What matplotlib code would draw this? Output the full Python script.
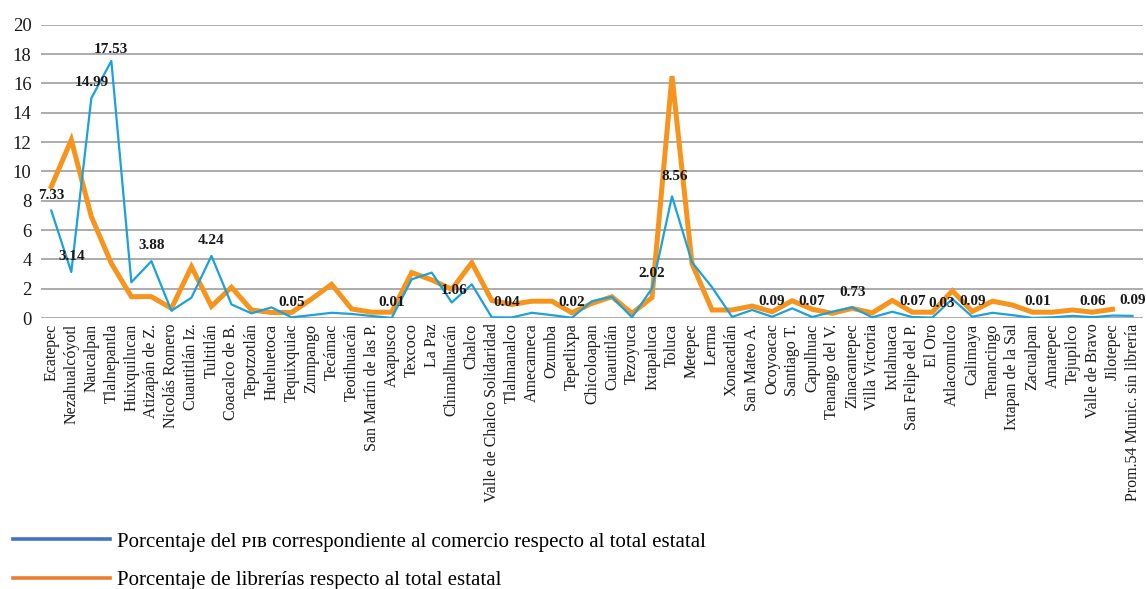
import numpy as np
import matplotlib.pyplot as plt
from matplotlib.lines import Line2D

plt.rcParams['font.family'] = ['Liberation Serif', 'DejaVu Serif']

municipios = [
    'Ecatepec', 'Nezahualcóyotl', 'Naucalpan', 'Tlalnepantla', 'Huixquilucan',
    'Atizapán de Z.', 'Nicolás Romero', 'Cuautitlán Iz.', 'Tultitlán', 'Coacalco de B.',
    'Tepotzotlán', 'Huehuetoca', 'Tequixquiac', 'Zumpango', 'Tecámac',
    'Teotihuacán', 'San Martín de las P.', 'Axapusco', 'Texcoco', 'La Paz',
    'Chimalhuacán', 'Chalco', 'Valle de Chalco Solidaridad', 'Tlalmanalco', 'Amecameca',
    'Ozumba', 'Tepetlixpa', 'Chicoloapan', 'Cuautitlán', 'Tezoyuca',
    'Ixtapaluca', 'Toluca', 'Metepec', 'Lerma', 'Xonacatlán',
    'San Mateo A.', 'Ocoyoacac', 'Santiago T.', 'Capulhuac', 'Tenango del V.',
    'Zinacantepec', 'Villa Victoria', 'Ixtlahuaca', 'San Felipe del P.', 'El Oro',
    'Atlacomulco', 'Calimaya', 'Tenancingo', 'Ixtapan de la Sal', 'Zacualpan',
    'Amatepec', 'Tejupilco', 'Valle de Bravo', 'Jilotepec', 'Prom.54 Munic. sin librería',
]

# % del PIB de comercio (azul)
pib = [
    7.33, 3.14, 14.99, 17.53, 2.44, 3.88, 0.50, 1.39, 4.24, 0.93,
    0.32, 0.73, 0.05, 0.20, 0.36, 0.28, 0.14, 0.01, 2.64, 3.10,
    1.06, 2.30, 0.05, 0.04, 0.36, 0.20, 0.02, 1.15, 1.45, 0.05,
    2.02, 8.30, 3.80, 2.10, 0.08, 0.55, 0.09, 0.66, 0.07, 0.43,
    0.73, 0.05, 0.43, 0.07, 0.03, 1.30, 0.09, 0.36, 0.20, 0.01,
    0.05, 0.15, 0.06, 0.17, 0.15,
]

# % de librerías (naranja); sin dato para el promedio
librerias = [
    8.96, 12.15, 6.92, 3.73, 1.46, 1.46, 0.66, 3.50, 0.80, 2.10,
    0.55, 0.38, 0.38, 1.30, 2.30, 0.62, 0.40, 0.40, 3.10, 2.60,
    1.96, 3.77, 1.20, 0.93, 1.15, 1.15, 0.36, 1.00, 1.45, 0.32,
    1.40, 16.50, 3.70, 0.55, 0.55, 0.82, 0.43, 1.18, 0.60, 0.32,
    0.66, 0.35, 1.20, 0.40, 0.40, 1.86, 0.45, 1.15, 0.89, 0.40,
    0.40, 0.55, 0.40, 0.60, np.nan,
]

# etiquetas de datos de la serie azul
etiq_idx = [0, 1, 2, 3, 5, 8, 12, 17, 20, 23, 26, 30, 31, 36, 38, 40, 43, 44, 46, 49, 52, 54]
etiq_txt = ['7.33', '3.14', '14.99', '17.53', '3.88', '4.24', '0.05', '0.01', '1.06', '0.04',
            '0.02', '2.02', '8.56', '0.09', '0.07', '0.73', '0.07', '0.03', '0.09', '0.01',
            '0.06', '0.09']
# desplazamientos (pt) de las etiquetas
etiq_off = {3: (0, 8), 31: (2, 14), 20: (2, 9), 23: (-4, 11), 44: (7, 10), 49: (4, 12)}

x = np.arange(len(municipios))

fig = plt.figure(figsize=(11.46, 5.89), dpi=100)
ax = fig.add_axes([0.036, 0.46, 0.961, 0.498])

ax.plot(x, pib, color='#1ba1db', lw=1.6, zorder=3)
ax.plot(x, librerias, color='#f7941d', lw=3.6, zorder=2, solid_joinstyle='miter')

for i, t in zip(etiq_idx, etiq_txt):
    dx, dy = etiq_off.get(i, (0, 11))
    ax.annotate(t, (i, pib[i]), xytext=(dx, dy), textcoords='offset points',
                ha='center', va='center', fontsize=11, fontweight='bold', color='#1a1a1a', zorder=5)

ax.set_xlim(-0.5, len(municipios) - 0.5)
ax.set_ylim(0, 20)
ax.set_yticks(range(0, 21, 2))
ax.set_xticks(x)
ax.set_xticklabels(municipios, rotation=90, fontsize=11.5)
ax.tick_params(axis='both', length=0, colors='#1a1a1a')
ax.tick_params(axis='y', labelsize=13.5, pad=7)
ax.tick_params(axis='x', pad=4)
ax.grid(axis='y', color='#a6a6a6', lw=1.3)
ax.set_axisbelow(True)
for s in ax.spines.values():
    s.set_visible(False)

handles = [Line2D([], [], color='#4472c4', lw=2.6),
           Line2D([], [], color='#ed7d31', lw=2.6)]
labels = ['Porcentaje del ᴘɪʙ correspondiente al comercio respecto al total estatal',
          'Porcentaje de librerías respecto al total estatal']
fig.legend(handles, labels, loc='upper left', bbox_to_anchor=(0.011, 1 - 532 / 589),
           frameon=False, fontsize=15, handlelength=4.66, handletextpad=0.34,
           labelspacing=0.9, borderpad=0, borderaxespad=0)

fig.savefig('out.png', dpi=100)
